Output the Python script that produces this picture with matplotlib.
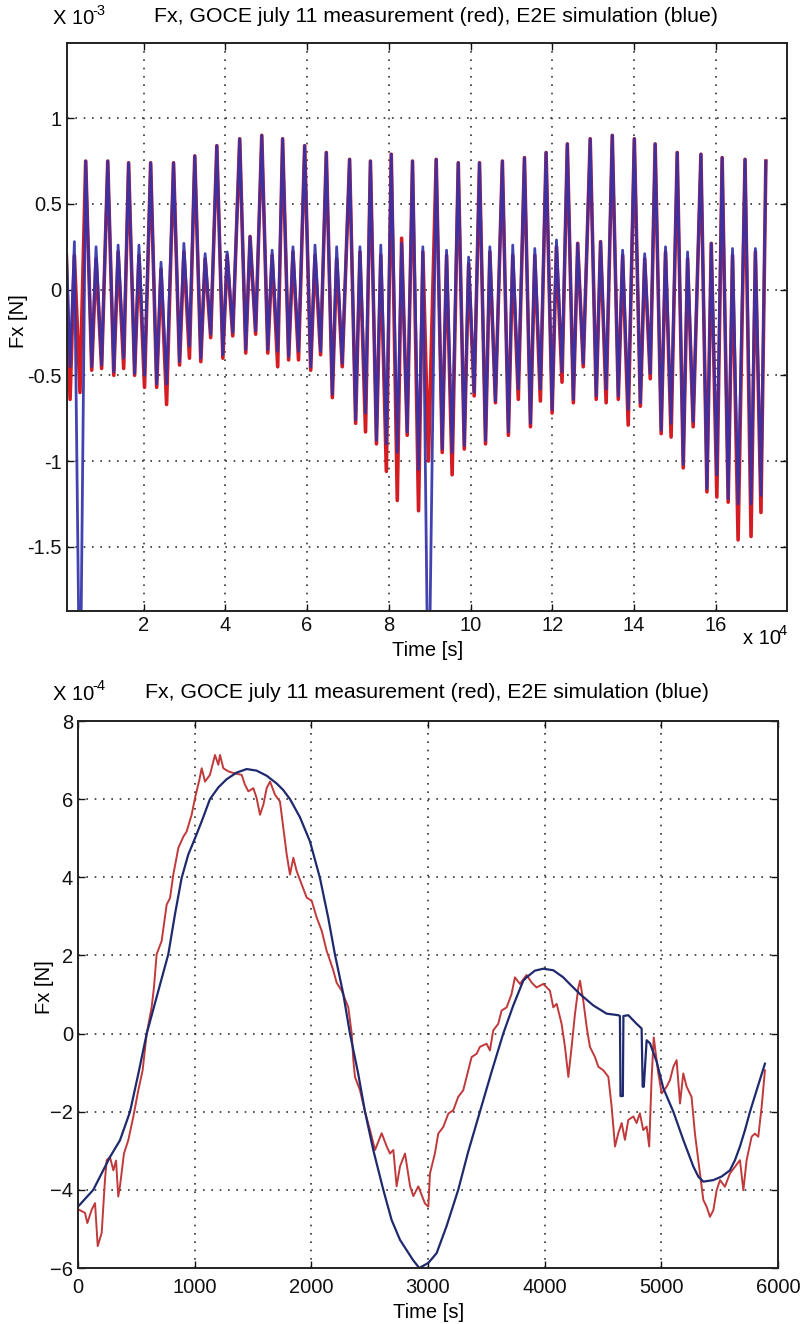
import matplotlib
matplotlib.use("Agg")
import matplotlib.pyplot as plt
from matplotlib.ticker import FormatStrFormatter

plt.rcParams['font.family'] = ['Liberation Sans', 'DejaVu Sans']

# ---- top panel: ~32 orbits, time in 1e4 s, force in 1e-3 N ----
# time of the big peak of every orbit
orbit_peak_time = [0.05, 0.58, 1.12, 1.63, 2.17, 2.73, 3.25, 3.79, 4.35, 4.89, 5.40,
                   5.94, 6.47, 7.04, 7.55, 8.06, 8.58, 9.16, 9.70, 10.22, 10.78,
                   11.32, 11.85, 12.37, 12.93, 13.47, 14.01, 14.52, 15.06, 15.64,
                   16.16, 16.72, 17.23]
# big peak value (same for measurement and simulation)
orbit_peak = [0.70, 0.75, 0.75, 0.74, 0.74, 0.74, 0.78, 0.84, 0.88, 0.90, 0.88,
              0.84, 0.80, 0.76, 0.75, 0.79, 0.75, 0.76, 0.74, 0.74, 0.75, 0.77,
              0.80, 0.85, 0.88, 0.90, 0.88, 0.85, 0.80, 0.79, 0.77, 0.76, 0.75]
# simulation (blue): first dip, small hump, second dip
sim_dip1 = [-0.45, -0.45, -0.48, -0.49, -0.55, -0.42, -0.40, -0.38, -0.35, -0.35,
            -0.39, -0.45, -0.61, -0.76, -0.88, -0.95, -1.05, -0.93, -0.91, -0.88,
            -0.83, -0.78, -0.70, -0.64, -0.62, -0.62, -0.66, -0.82, -1.02, -1.16,
            -1.22, -1.25]
sim_hump = [0.28, 0.25, 0.26, 0.26, 0.16, 0.27, 0.21, 0.22, 0.31, 0.23, 0.25, 0.26,
            0.25, 0.25, 0.26, 0.27, 0.25, 0.23, 0.19, 0.25, 0.26, 0.24, 0.29, 0.27,
            0.28, 0.23, 0.21, 0.25, 0.22, 0.27, 0.24, 0.24]
sim_dip2 = [-2.6, -0.44, -0.40, -0.50, -0.55, -0.33, -0.26, -0.25, -0.24, -0.36,
            -0.36, -0.36, -0.43, -0.72, -0.90, -0.83, -2.6, -0.95, -0.60, -0.65,
            -0.58, -0.58, -0.48, -0.43, -0.58, -0.70, -0.49, -0.78, -0.77, -1.08,
            -1.25, -1.20]
# measurement (red)
meas_dip1 = [-0.64, -0.47, -0.50, -0.50, -0.57, -0.44, -0.42, -0.40, -0.37, -0.37,
             -0.41, -0.47, -0.63, -0.78, -0.90, -1.23, -1.29, -0.95, -0.93, -0.90,
             -0.85, -0.80, -0.72, -0.66, -0.64, -0.64, -0.68, -0.84, -1.04, -1.18,
             -1.24, -1.44]
meas_hump = [0.20, 0.18, 0.22, 0.20, 0.12, 0.22, 0.18, 0.20, 0.31, 0.20, 0.22, 0.20,
             0.18, 0.22, 0.20, 0.30, 0.22, 0.20, 0.15, 0.22, 0.20, 0.20, 0.25, 0.27,
             0.28, 0.20, 0.18, 0.22, 0.18, 0.27, 0.20, 0.22]
meas_dip2 = [-0.60, -0.46, -0.46, -0.57, -0.67, -0.40, -0.28, -0.27, -0.26, -0.45,
             -0.41, -0.38, -0.45, -0.83, -1.06, -0.85, -1.00, -1.08, -0.62, -0.66,
             -0.64, -0.65, -0.54, -0.45, -0.66, -0.79, -0.52, -0.86, -0.80, -1.21,
             -1.46, -1.30]
# where dip / hump / dip sit after the big peak (1e4 s), from the one-orbit panel
orbit_phase = [0.0, 0.1475, 0.2535, 0.39]

# ---- bottom panel: one orbit, time in s, force in 1e-4 N ----
sim_t = [0, 131, 274, 360, 446, 517, 589, 680, 774, 831, 888, 945, 1003, 1060, 1131,
         1203, 1274, 1360, 1446, 1531, 1617, 1703, 1760, 1817, 1902, 1988, 2074, 2145,
         2202, 2274, 2331, 2402, 2460, 2531, 2617, 2688, 2760, 2870, 2925, 3003, 3074,
         3159, 3259, 3345, 3445, 3545, 3645, 3731, 3816, 3845, 3916, 3988, 4074, 4159,
         4188, 4245, 4303, 4417, 4531, 4631, 4645, 4650, 4670, 4675, 4717, 4788, 4831,
         4840, 4850, 4874, 4903, 4960, 5017, 5103, 5188, 5274, 5317, 5360, 5446, 5516,
         5588, 5631, 5674, 5717, 5760, 5817, 5888]
sim_fx = [-4.43, -4.0, -3.16, -2.73, -2.0, -1.03, 0.0, 1.0, 2.03, 3.05, 3.98, 4.58,
          5.0, 5.43, 6.0, 6.30, 6.51, 6.68, 6.77, 6.73, 6.60, 6.40, 6.23, 6.0, 5.54,
          4.92, 3.98, 2.96, 2.03, 1.01, 0.0, -1.03, -2.0, -2.98, -4.0, -4.77, -5.28,
          -5.79, -6.0, -5.87, -5.62, -4.93, -4.0, -3.02, -2.0, -0.98, 0.0, 0.72, 1.35,
          1.44, 1.61, 1.66, 1.62, 1.44, 1.35, 1.18, 1.01, 0.72, 0.51, 0.47, 0.45, -1.6,
          -1.6, 0.45, 0.47, 0.25, 0.13, -1.36, -1.36, -0.17, -0.25, -0.72, -1.4, -2.0,
          -2.72, -3.4, -3.66, -3.79, -3.75, -3.66, -3.5, -3.24, -2.89, -2.47, -2.0,
          -1.45, -0.77]

meas_t = [10, 60, 80, 117, 146, 169, 203, 231, 246, 274, 303, 326, 345, 360, 394, 431,
          474, 517, 554, 589, 631, 651, 674, 717, 760, 789, 817, 860, 903, 931, 974,
          1003, 1040, 1060, 1089, 1131, 1174, 1203, 1217, 1246, 1289, 1331, 1403, 1431,
          1460, 1503, 1531, 1560, 1589, 1617, 1646, 1689, 1731, 1760, 1789, 1817, 1846,
          1874, 1917, 1960, 2003, 2046, 2089, 2131, 2160, 2189, 2217, 2260, 2317, 2346,
          2360, 2374, 2417, 2460, 2503, 2546, 2603, 2646, 2674, 2703, 2731, 2760, 2803,
          2846, 2874, 2917, 2974, 3003, 3017, 3059, 3088, 3131, 3174, 3217, 3259, 3302,
          3345, 3374, 3416, 3445, 3502, 3531, 3559, 3602, 3631, 3674, 3716, 3745, 3788,
          3845, 3890, 3930, 3988, 4045, 4074, 4103, 4145, 4174, 4203, 4231, 4260, 4289,
          4303, 4331, 4360, 4388, 4431, 4460, 4503, 4546, 4574, 4603, 4631, 4660, 4688,
          4717, 4760, 4788, 4816, 4845, 4874, 4896, 4916, 4935, 4974, 5003, 5045, 5074,
          5103, 5131, 5160, 5188, 5217, 5259, 5288, 5331, 5360, 5388, 5417, 5446, 5474,
          5503, 5545, 5588, 5631, 5674, 5703, 5731, 5774, 5802, 5831, 5860, 5888]
meas_fx = [-4.51, -4.59, -4.85, -4.51, -4.34, -5.44, -5.10, -3.75, -3.24, -3.16, -3.50,
           -3.25, -4.17, -3.90, -3.07, -2.73, -2.13, -1.45, -0.94, 0.0, 0.67, 1.18, 2.03,
           2.37, 3.30, 3.47, 4.07, 4.75, 5.04, 5.17, 5.60, 6.03, 6.49, 6.79, 6.45, 6.62,
           7.13, 6.88, 7.13, 6.79, 6.71, 6.67, 6.62, 6.37, 6.20, 6.28, 6.03, 5.60, 5.86,
           6.28, 6.45, 6.11, 5.94, 5.26, 4.58, 4.07, 4.50, 4.16, 3.82, 3.48, 3.40, 2.97,
           2.63, 2.12, 1.87, 1.61, 1.30, 1.10, 0.67, 0.0, -0.68, -1.11, -1.45, -2.0,
           -2.47, -2.98, -2.55, -2.89, -3.07, -2.98, -3.91, -3.40, -3.07, -3.90, -4.16,
           -3.91, -4.35, -4.43, -3.58, -3.07, -2.56, -2.39, -2.05, -1.96, -1.62, -1.45,
           -0.94, -0.60, -0.52, -0.34, -0.26, -0.43, 0.08, 0.25, 0.59, 0.67, 1.01, 1.44,
           1.27, 1.50, 1.30, 1.18, 1.27, 1.10, 0.67, 0.76, 0.25, -0.34, -1.11, -0.34,
           0.51, 1.18, 1.35, 0.84, 0.17, -0.34, -0.60, -0.85, -0.94, -1.11, -1.87, -2.89,
           -2.55, -2.29, -2.72, -2.21, -2.12, -2.29, -2.04, -2.47, -2.38, -2.89, -1.19,
           -0.10, -1.02, -1.53, -1.36, -1.19, -0.85, -0.68, -1.79, -1.02, -1.36, -1.62,
           -2.56, -3.58, -4.26, -4.43, -4.69, -4.52, -4.01, -3.75, -3.92, -3.58, -3.41,
           -3.24, -4.01, -3.24, -2.64, -2.56, -2.64, -1.87, -0.94]


def orbit_series(dip1, hump, dip2):
    t, v = [], []
    for k in range(len(dip1)):
        vals = [orbit_peak[k], dip1[k], hump[k], dip2[k]]
        for ph, val in zip(orbit_phase, vals):
            t.append(orbit_peak_time[k] + ph)
            v.append(val)
    t.append(orbit_peak_time[-1])
    v.append(orbit_peak[-1])
    return t, v


def style_axes(ax):
    ax.grid(True, color='#333333', linestyle=(0, (1, 4)), linewidth=1.2)
    ax.tick_params(direction='in', top=True, right=True, length=5, width=1,
                   labelsize=14.5, colors='#111111')
    for s in ax.spines.values():
        s.set_linewidth(1.4)
        s.set_color('#222222')


W, H = 800, 1324
fig = plt.figure(figsize=(W / 100, H / 100), dpi=100)


def px(x, y):
    return x / W, 1 - y / H


# top panel
ax1 = fig.add_axes([66.7 / W, 1 - 610.7 / H, 720 / W, 567.4 / H])
mt, mv = orbit_series(meas_dip1, meas_hump, meas_dip2)
st, sv = orbit_series(sim_dip1, sim_hump, sim_dip2)
ax1.plot(mt, mv, color='#d41c22', lw=2.6)
ax1.plot(st, sv, color='#3232aa', lw=2.0, alpha=0.92)
ax1.set_xlim(0.115, 17.74)
ax1.set_ylim(-1.873, 1.437)
ax1.set_xticks([2, 4, 6, 8, 10, 12, 14, 16])
ax1.set_yticks([-1.5, -1, -0.5, 0, 0.5, 1])
ax1.xaxis.set_major_formatter(FormatStrFormatter('%g'))
ax1.yaxis.set_major_formatter(FormatStrFormatter('%g'))
style_axes(ax1)
ax1.tick_params(axis='x', pad=4)

# bottom panel
ax2 = fig.add_axes([78 / W, 1 - 1268 / H, 700 / W, 547 / H])
ax2.plot(meas_t, meas_fx, color='#c0393b', lw=1.4)
ax2.plot(sim_t, sim_fx, color='#1f2a6e', lw=1.6)
ax2.set_xlim(0, 6000)
ax2.set_ylim(-6, 8)
ax2.set_xticks(range(0, 6001, 1000))
ax2.set_yticks(range(-6, 9, 2))
style_axes(ax2)
ax2.tick_params(axis='x', pad=7)

title = 'Fx, GOCE july 11 measurement (red), E2E simulation (blue)'
fs = 14.5
tfs = 15.3
sfs = 10.5
fig.text(*px(436, 17), title, ha='center', va='center', fontsize=tfs)
fig.text(*px(53, 19), 'X 10', ha='left', va='center', fontsize=fs)
fig.text(*px(92, 11), '-3', ha='left', va='center', fontsize=sfs)
fig.text(*px(428, 651), 'Time [s]', ha='center', va='center', fontsize=fs)
fig.text(*px(743, 639), 'x 10', ha='left', va='center', fontsize=fs)
fig.text(*px(779, 631), '4', ha='left', va='center', fontsize=sfs)
fig.text(*px(19, 321), 'Fx [N]', ha='center', va='center', rotation=90, fontsize=fs)

fig.text(*px(427, 692), title, ha='center', va='center', fontsize=tfs)
fig.text(*px(53, 694), 'X 10', ha='left', va='center', fontsize=fs)
fig.text(*px(92, 686), '-4', ha='left', va='center', fontsize=sfs)
fig.text(*px(429, 1312), 'Time [s]', ha='center', va='center', fontsize=fs)
fig.text(*px(45, 987), 'Fx [N]', ha='center', va='center', rotation=90, fontsize=fs)

fig.savefig('out.png', dpi=100, facecolor='white')
